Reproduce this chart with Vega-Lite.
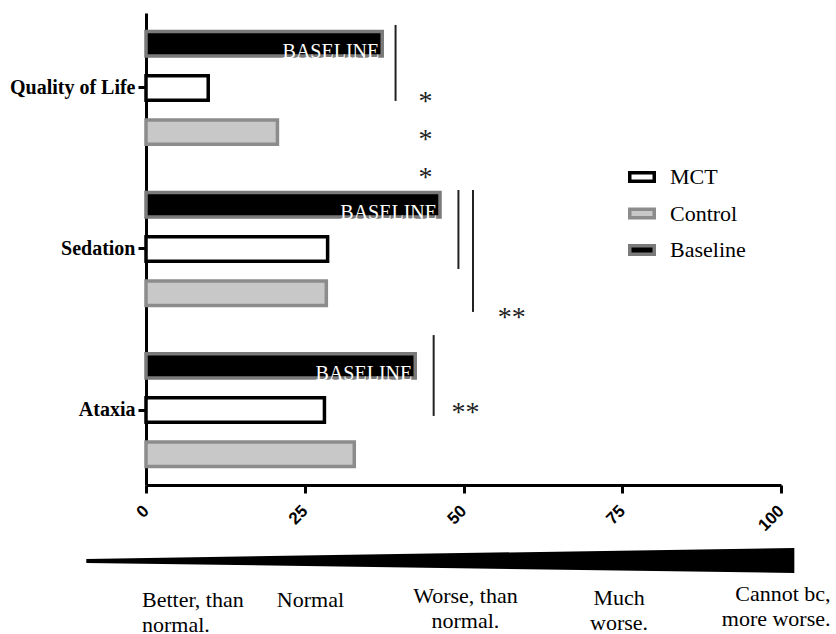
{
  "$schema": "https://vega.github.io/schema/vega-lite/v6.json",
  "width": 635,
  "height": 472,
  "autosize": {"type": "none"},
  "padding": {"left": 146, "top": 13, "right": 55, "bottom": 149},
  "background": "white",
  "config": {
    "view": {"stroke": null},
    "font": "Liberation Serif",
    "legend": {"labelFont": "Liberation Serif", "labelFontSize": 22, "labelColor": "black"}
  },
  "datasets": {
    "bars": [
      {"measure": "Quality of Life", "group": "Baseline", "score": 37.2},
      {"measure": "Quality of Life", "group": "MCT", "score": 9.8},
      {"measure": "Quality of Life", "group": "Control", "score": 20.7},
      {"measure": "Sedation", "group": "Baseline", "score": 46.3},
      {"measure": "Sedation", "group": "MCT", "score": 28.6},
      {"measure": "Sedation", "group": "Control", "score": 28.4},
      {"measure": "Ataxia", "group": "Baseline", "score": 42.4},
      {"measure": "Ataxia", "group": "MCT", "score": 28.1},
      {"measure": "Ataxia", "group": "Control", "score": 32.8}
    ],
    "brackets": [
      {"x": 39.3, "y1": 0.076, "y2": 0.559},
      {"x": 49.2, "y1": 1.125, "y2": 1.627},
      {"x": 51.5, "y1": 1.125, "y2": 1.9},
      {"x": 45.3, "y1": 2.047, "y2": 2.561}
    ],
    "stars": [
      {"x": 44.0, "y": 0.534, "label": "*"},
      {"x": 44.0, "y": 0.775, "label": "*"},
      {"x": 44.0, "y": 1.017, "label": "*"},
      {"x": 57.6, "y": 1.907, "label": "**"},
      {"x": 50.3, "y": 2.511, "label": "**"}
    ],
    "wedge": [
      {"x": -9.4, "lo": 3.47, "hi": 3.495},
      {"x": 102.1, "lo": 3.4, "hi": 3.559}
    ],
    "scale_labels": [
      {"x": -0.63, "y": 3.775, "label": "Better, than\nnormal."},
      {"x": 25.9, "y": 3.775, "label": "Normal"},
      {"x": 50.3, "y": 3.75, "label": "Worse, than\nnormal."},
      {"x": 74.5, "y": 3.763, "label": "Much\nworse."},
      {"x": 107.8, "y": 3.737, "label": "Cannot bc,\nmore worse."}
    ]
  },
  "resolve": {"scale": {"x": "independent", "y": "independent"}},
  "layer": [
    {
      "data": {"name": "bars"},
      "encoding": {
        "y": {
          "field": "measure",
          "type": "nominal",
          "scale": {"domain": ["Quality of Life", "Sedation", "Ataxia"], "paddingInner": 0.07, "paddingOuter": 0},
          "axis": {
            "title": null,
            "labelFont": "Liberation Serif",
            "labelFontWeight": "bold",
            "labelFontSize": 20,
            "labelColor": "black",
            "labelPadding": 3,
            "tickSize": 8,
            "tickWidth": 3,
            "tickColor": "black",
            "domainWidth": 3,
            "domainColor": "black",
            "grid": false
          }
        },
        "yOffset": {
          "field": "group",
          "type": "nominal",
          "scale": {"domain": ["Baseline", "MCT", "Control"], "paddingInner": 0.447, "paddingOuter": 0.417}
        },
        "x": {
          "field": "score",
          "type": "quantitative",
          "scale": {"domain": [0, 100], "nice": false},
          "axis": {
            "title": null,
            "values": [0, 25, 50, 75, 100],
            "labelAngle": -45,
            "labelAlign": "right",
            "labelBaseline": "middle",
            "labelFont": "Liberation Sans",
            "labelFontWeight": "bold",
            "labelFontSize": 17,
            "labelColor": "black",
            "labelPadding": 15,
            "labelFlush": false,
            "labelOverlap": false,
            "tickSize": 8,
            "tickWidth": 3,
            "tickColor": "black",
            "domainWidth": 3,
            "domainColor": "black",
            "grid": false
          }
        }
      },
      "layer": [
        {
          "mark": {"type": "bar", "strokeWidth": 3.5},
          "encoding": {
            "fill": {
              "field": "group",
              "type": "nominal",
              "scale": {"domain": ["MCT", "Control", "Baseline"], "range": ["#ffffff", "#c8c8c8", "#000000"]},
              "legend": {
                "title": null,
                "orient": "none",
                "legendX": 482,
                "legendY": 150,
                "symbolType": "M-1,-0.35H1V0.35H-1Z",
                "symbolSize": 600,
                "symbolStrokeWidth": 3.5,
                "labelFont": "Liberation Serif",
                "labelFontSize": 22,
                "labelColor": "black",
                "labelOffset": 14,
                "rowPadding": 10.5,
                "labelExpr": "datum.label",
                "encode": {"labels": {"update": {"font": {"value": "Liberation Serif"}, "fontSize": {"value": 22}}}}
              }
            },
            "stroke": {
              "field": "group",
              "type": "nominal",
              "scale": {"domain": ["MCT", "Control", "Baseline"], "range": ["#000000", "#8c8c8c", "#7a7a7a"]},
              "legend": {
                "title": null,
                "orient": "none",
                "legendX": 482,
                "legendY": 150,
                "symbolType": "M-1,-0.35H1V0.35H-1Z",
                "symbolSize": 600,
                "symbolStrokeWidth": 3.5,
                "labelFont": "Liberation Serif",
                "labelFontSize": 22,
                "labelColor": "black",
                "labelOffset": 14,
                "rowPadding": 10.5,
                "labelExpr": "datum.label",
                "encode": {"labels": {"update": {"font": {"value": "Liberation Serif"}, "fontSize": {"value": 22}}}}
              }
            }
          }
        },
        {
          "transform": [{"filter": "datum.group === 'Baseline'"}],
          "mark": {"type": "text", "font": "Liberation Serif", "fontSize": 20, "fill": "white", "align": "right", "baseline": "alphabetic", "dx": -3, "dy": 14},
          "encoding": {"text": {"value": "BASELINE"}}
        }
      ]
    },
    {
      "data": {"name": "brackets"},
      "mark": {"type": "rule", "strokeWidth": 2, "color": "#222222"},
      "encoding": {
        "x": {"field": "x", "type": "quantitative", "scale": {"domain": [0, 100], "nice": false}, "axis": null},
        "y": {"field": "y1", "type": "quantitative", "scale": {"domain": [0, 3], "reverse": true, "nice": false}, "axis": null},
        "y2": {"field": "y2"}
      }
    },
    {
      "data": {"name": "stars"},
      "mark": {"type": "text", "font": "Liberation Serif", "fontSize": 28, "color": "#222222", "align": "center", "baseline": "middle", "dy": 5},
      "encoding": {
        "x": {"field": "x", "type": "quantitative", "scale": {"domain": [0, 100], "nice": false}, "axis": null},
        "y": {"field": "y", "type": "quantitative", "scale": {"domain": [0, 3], "reverse": true, "nice": false}, "axis": null},
        "text": {"field": "label"}
      }
    },
    {
      "data": {"name": "wedge"},
      "mark": {"type": "area", "color": "black"},
      "encoding": {
        "x": {"field": "x", "type": "quantitative", "scale": {"domain": [0, 100], "nice": false}, "axis": null},
        "y": {"field": "lo", "type": "quantitative", "scale": {"domain": [0, 3], "reverse": true, "nice": false}, "axis": null},
        "y2": {"field": "hi"}
      }
    },
    {
      "data": {"name": "scale_labels"},
      "transform": [{"filter": {"field": "label", "oneOf": ["Better, than\nnormal."]}}],
      "mark": {"type": "text", "font": "Liberation Serif", "fontSize": 22, "color": "black", "align": "left", "baseline": "alphabetic", "lineBreak": "\n", "lineHeight": 25},
      "encoding": {
        "x": {"field": "x", "type": "quantitative", "scale": {"domain": [0, 100], "nice": false}, "axis": null},
        "y": {"field": "y", "type": "quantitative", "scale": {"domain": [0, 3], "reverse": true, "nice": false}, "axis": null},
        "text": {"field": "label"}
      }
    },
    {
      "data": {"name": "scale_labels"},
      "transform": [{"filter": {"field": "label", "oneOf": ["Normal", "Worse, than\nnormal.", "Much\nworse."]}}],
      "mark": {"type": "text", "font": "Liberation Serif", "fontSize": 22, "color": "black", "align": "center", "baseline": "alphabetic", "lineBreak": "\n", "lineHeight": 25},
      "encoding": {
        "x": {"field": "x", "type": "quantitative", "scale": {"domain": [0, 100], "nice": false}, "axis": null},
        "y": {"field": "y", "type": "quantitative", "scale": {"domain": [0, 3], "reverse": true, "nice": false}, "axis": null},
        "text": {"field": "label"}
      }
    },
    {
      "data": {"name": "scale_labels"},
      "transform": [{"filter": {"field": "label", "oneOf": ["Cannot bc,\nmore worse."]}}],
      "mark": {"type": "text", "font": "Liberation Serif", "fontSize": 22, "color": "black", "align": "right", "baseline": "alphabetic", "lineBreak": "\n", "lineHeight": 25},
      "encoding": {
        "x": {"field": "x", "type": "quantitative", "scale": {"domain": [0, 100], "nice": false}, "axis": null},
        "y": {"field": "y", "type": "quantitative", "scale": {"domain": [0, 3], "reverse": true, "nice": false}, "axis": null},
        "text": {"field": "label"}
      }
    }
  ]
}
